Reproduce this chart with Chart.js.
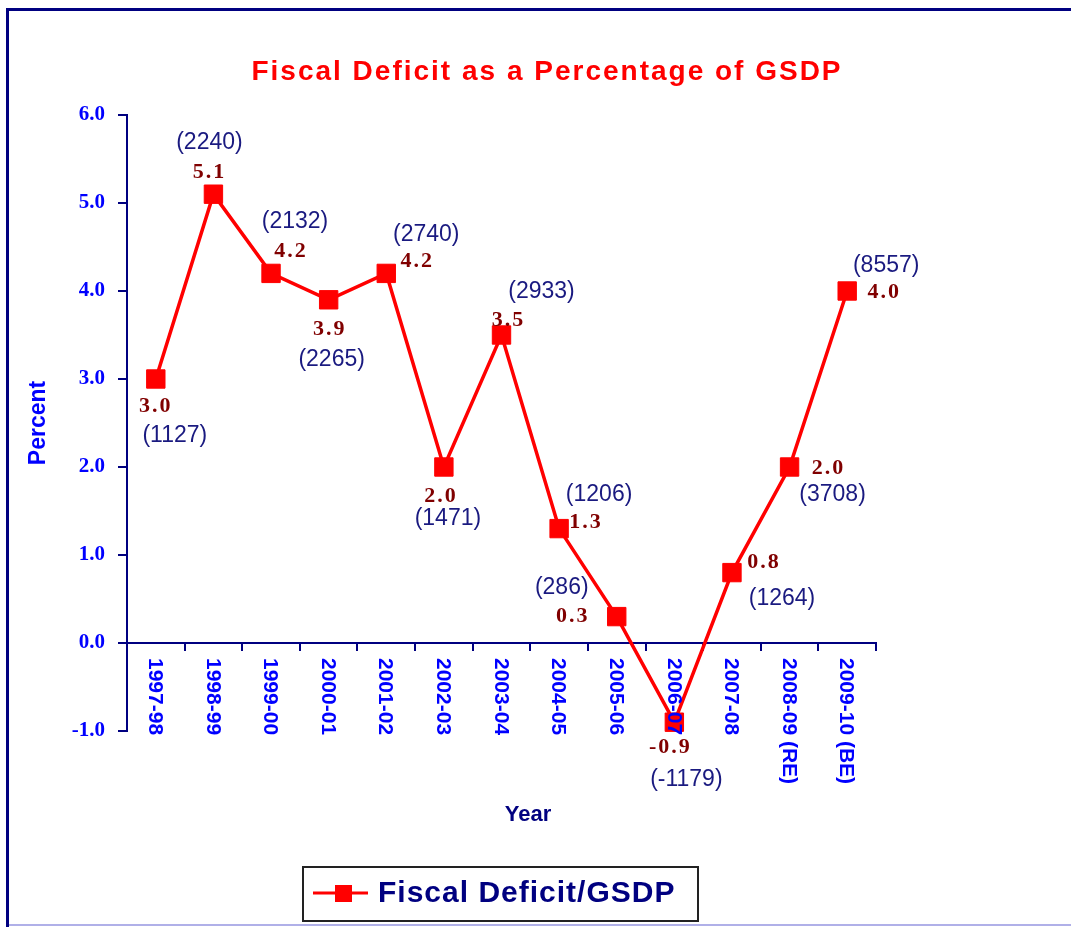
<!DOCTYPE html>
<html lang="en">
<head>
  <meta charset="UTF-8" />
  <script src="https://cdn.jsdelivr.net/npm/chart.js"></script>
  <style>
    body { margin: 0; background: #fff; }
    #wrap { width: 1071px; height: 927px; }
  </style>
</head>
<body>
  <div id="wrap"><canvas id="deficitChart" width="1071" height="927"></canvas></div>

  <script>
    // data
    const years = ['1997-98', '1998-99', '1999-00', '2000-01', '2001-02', '2002-03', '2003-04',
      '2004-05', '2005-06', '2006-07', '2007-08', '2008-09 (RE)', '2009-10 (BE)'];
    const deficitPct = [3.0, 5.1, 4.2, 3.9, 4.2, 2.0, 3.5, 1.3, 0.3, -0.9, 0.8, 2.0, 4.0];
    const deficitAmt = [1127, 2240, 2132, 2265, 2740, 1471, 2933, 1206, 286, -1179, 1264, 3708, 8557];
    const yTicks = [-1, 0, 1, 2, 3, 4, 5, 6];

    // where each pair of labels sits relative to its point (px)
    const valueOffsets = [[-1, 27], [-5, -22], [19, -22], [0, 30], [30, -12], [-4, 29], [6, -15],
      [26, -6], [-45, 0], [-5, 25], [31, -10], [38, 1], [36, 1]];
    const amountOffsets = [[19, 57], [-4, -52], [24, -52], [3, 60], [40, -39], [4, 52], [40, -43],
      [40, -34], [-55, -29], [12, 57], [50, 26], [43, 28], [39, -25]];

    const NAVY = '#000080';
    const SANS = 'Arial, "Liberation Sans", sans-serif';
    const SERIF = '"Times New Roman", "Liberation Serif", serif';

    const decorations = {
      id: 'decorations',
      beforeDraw(chart) {
        const ctx = chart.ctx;
        ctx.save();
        ctx.fillStyle = '#fff';
        ctx.fillRect(0, 0, chart.width, chart.height);
        // outer frame
        ctx.fillStyle = NAVY;
        ctx.fillRect(6, 8, chart.width - 6, 3);
        ctx.fillRect(6, 8, 3, chart.height - 8);
        ctx.fillStyle = '#b0b0e8';
        ctx.fillRect(9, 924, chart.width - 9, 2);
        // title
        ctx.fillStyle = '#ff0000';
        ctx.font = 'bold 28px ' + SANS;
        ctx.letterSpacing = '2px';
        ctx.textAlign = 'center';
        ctx.textBaseline = 'alphabetic';
        ctx.fillText('Fiscal Deficit as a Percentage of GSDP', 547, 80);
        ctx.letterSpacing = '0px';
        // axis titles
        ctx.fillStyle = NAVY;
        ctx.font = 'bold 22px ' + SANS;
        ctx.textBaseline = 'middle';
        ctx.fillText('Year', 528, 815);
        ctx.translate(39, 423);
        ctx.rotate(-Math.PI / 2);
        ctx.fillStyle = '#0000ff';
        ctx.font = 'bold 23px ' + SANS;
        ctx.fillText('Percent', 0, 0);
        ctx.restore();
      },
      afterDatasetsDraw(chart) {
        const ctx = chart.ctx;
        const meta = chart.getDatasetMeta(0);
        const xs = chart.scales.x;
        const axisY = chart.scales.y.getPixelForValue(0);
        ctx.save();
        ctx.textAlign = 'center';
        ctx.textBaseline = 'middle';
        meta.data.forEach((pt, i) => {
          ctx.fillStyle = '#800000';
          ctx.font = 'bold 22px ' + SERIF;
          ctx.letterSpacing = '2px';
          ctx.fillText(deficitPct[i].toFixed(1), pt.x + valueOffsets[i][0] + 1, pt.y + valueOffsets[i][1]);
          ctx.letterSpacing = '0px';
          ctx.fillStyle = '#1a1a80';
          ctx.font = '23px ' + SANS;
          ctx.fillText('(' + deficitAmt[i] + ')', pt.x + amountOffsets[i][0], pt.y + amountOffsets[i][1]);
        });
        // category labels, turned clockwise and hanging below the zero line
        ctx.fillStyle = '#0000ff';
        ctx.font = 'bold 21px ' + SANS;
        ctx.textAlign = 'left';
        xs.ticks.forEach((t, i) => {
          ctx.save();
          ctx.translate(xs.getPixelForTick(i), axisY + 15);
          ctx.rotate(Math.PI / 2);
          ctx.fillText(xs.getLabelForValue(t.value), 0, 1);
          ctx.restore();
        });
        ctx.restore();
      },
      afterDraw(chart) {
        const ctx = chart.ctx;
        const ds = chart.data.datasets[0];
        ctx.save();
        ctx.strokeStyle = '#222';
        ctx.lineWidth = 2;
        ctx.strokeRect(303, 867, 395, 54);
        ctx.strokeStyle = ds.borderColor;
        ctx.lineWidth = 3;
        ctx.beginPath();
        ctx.moveTo(313, 893);
        ctx.lineTo(368, 893);
        ctx.stroke();
        ctx.fillStyle = ds.pointBackgroundColor;
        ctx.fillRect(335, 885, 17, 17);
        ctx.fillStyle = NAVY;
        ctx.font = 'bold 30px ' + SANS;
        ctx.letterSpacing = '1px';
        ctx.textAlign = 'left';
        ctx.textBaseline = 'middle';
        ctx.fillText(ds.label, 378, 894);
        ctx.restore();
      }
    };

    const ctx = document.getElementById('deficitChart').getContext('2d');
    new Chart(ctx, {
      type: 'line',
      data: {
        labels: years,
        datasets: [{
          label: 'Fiscal Deficit/GSDP',
          data: deficitPct,
          borderColor: '#ff0000',
          borderWidth: 3.5,
          pointStyle: 'rect',
          pointRadius: 13,
          pointHoverRadius: 13,
          pointBackgroundColor: '#ff0000',
          pointBorderColor: '#ff0000',
          pointBorderWidth: 1,
          tension: 0,
          clip: false,
        }],
      },
      options: {
        responsive: false,
        animation: false,
        layout: { padding: { left: 47, right: 195, top: 115, bottom: 196 } },
        plugins: {
          legend: { display: false },
          title: { display: false },
          tooltip: { enabled: false },
        },
        scales: {
          x: {
            type: 'category',
            offset: true,
            position: { y: 0 },
            ticks: { display: false },
            grid: {
              offset: true,
              drawOnChartArea: false,
              drawTicks: true,
              tickLength: 7,
              color: NAVY,
              lineWidth: 2,
            },
            border: { color: NAVY, width: 2 },
          },
          y: {
            min: -1,
            max: 6,
            afterFit: s => { s.width = 80; },
            afterBuildTicks: s => { s.ticks = yTicks.map(v => ({ value: v })); },
            ticks: {
              color: '#0000ff',
              font: { family: SERIF, size: 21, weight: 'bold' },
              padding: 13,
              callback: v => Number(v).toFixed(1),
            },
            grid: {
              drawOnChartArea: false,
              tickLength: 9,
              color: NAVY,
              lineWidth: 2,
            },
            border: { color: NAVY, width: 2 },
          },
        },
      },
      plugins: [decorations],
    });
  </script>
</body>
</html>
